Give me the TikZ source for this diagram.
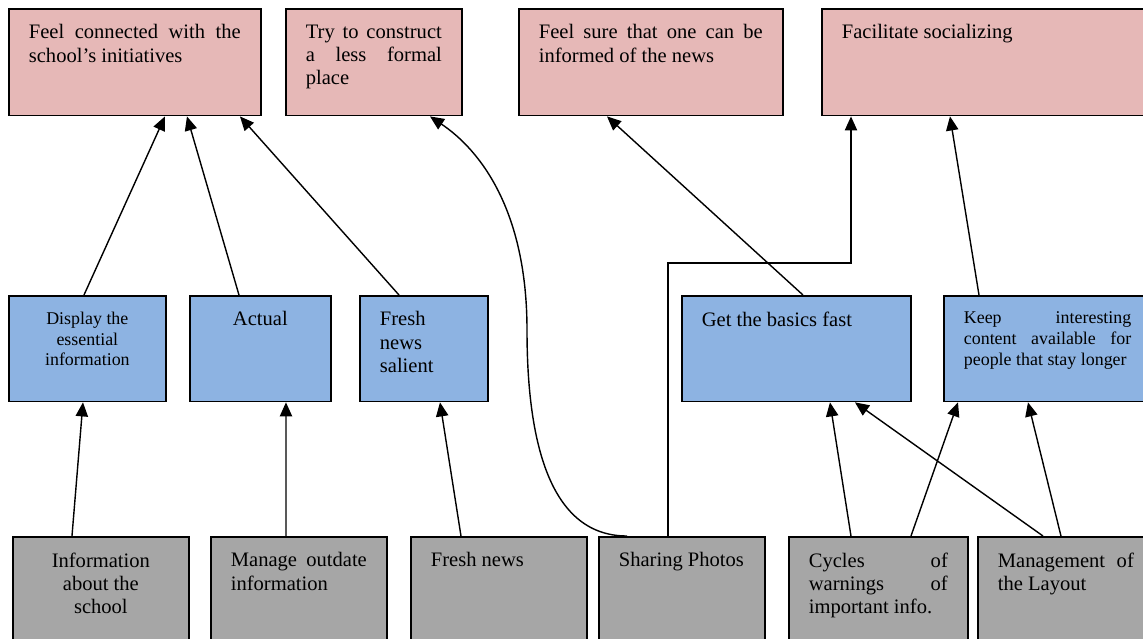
\documentclass[tikz,border=0pt]{standalone}
\usepackage{fontspec}
\setmainfont{Liberation Serif}
\usetikzlibrary{arrows.meta}

\definecolor{goalpink}{HTML}{E6B8B7}
\definecolor{needblue}{HTML}{8DB3E2}
\definecolor{featgray}{HTML}{A6A6A6}

\newcommand{\bigtxt}{\fontsize{11.7}{13.2}\selectfont}
\newcommand{\smalltxt}{\fontsize{10.2}{11.9}\selectfont}
\newcommand{\cell}[3]{\parbox[t][#2][t]{#1}{#3}}

\tikzset{
  box/.style={draw, line width=1pt, anchor=north west, inner xsep=0.4cm, inner ysep=9pt, font=\bigtxt},
  goal/.style={box, fill=goalpink},
  need/.style={box, fill=needblue},
  feat/.style={box, fill=featgray},
  arr/.style={-{Triangle[length=8pt,width=7pt]}, line width=0.8pt},
}

\begin{document}
\begin{tikzpicture}[x=0.02cm, y=-0.02cm]
  \useasboundingbox (0,0) rectangle (1143,639);
  \clip (0,0) rectangle (1143,639);

  % goals
  \node[goal] (A) at (8,8) {\cell{4.24cm}{42.7pt}{Feel connected with the\linebreak school's initiatives}};
  \node[goal] (B) at (285,8) {\cell{2.72cm}{42.7pt}{Try to construct\linebreak a less formal\linebreak place}};
  \node[goal] (C) at (518,8) {\cell{4.48cm}{42.7pt}{Feel sure that one can be\linebreak informed of the news}};
  \node[goal] (D) at (821,8) {\cell{6cm}{42.7pt}{Facilitate socializing}};

  % needs
  \node[need, font=\smalltxt] (E) at (8,295) {\cell{2.34cm}{42.1pt}{\centering Display the\\ essential\\ information}};
  \node[need] (F) at (189,295) {\cell{2.02cm}{42.1pt}{\centering Actual}};
  \node[need] (G) at (359,295) {\cell{1.76cm}{42.1pt}{Fresh\\ news\\ salient}};
  \node[need] (H) at (681,295) {\cell{3.78cm}{42.1pt}{Get the basics fast}};
  \node[need, font=\smalltxt] (I) at (943,295) {\cell{3.35cm}{42.1pt}{Keep interesting\linebreak content available for\linebreak people that stay longer}};

  % features
  \node[feat] (J) at (12,536) {\cell{2.72cm}{50pt}{\centering Information\\ about the\\ school}};
  \node[feat] (K) at (210,536) {\cell{2.72cm}{50pt}{Manage outdate\linebreak information}};
  \node[feat] (L) at (410,536) {\cell{2.72cm}{50pt}{Fresh news}};
  \node[feat] (M) at (598,536) {\cell{2.52cm}{50pt}{Sharing Photos}};
  \node[feat] (N) at (788,536) {\cell{2.78cm}{50pt}{Cycles of\linebreak warnings of\linebreak important info.}};
  \node[feat] (O) at (977,536) {\cell{2.72cm}{50pt}{Management of\linebreak the Layout}};

  % needs -> goals
  \draw[arr] ([xshift=1.52cm]E.north west) -- ([xshift=3.14cm]A.south west);
  \draw[arr] ([xshift=1.0cm]F.north west) -- ([xshift=3.58cm]A.south west);
  \draw[arr] ([xshift=0.8cm]G.north west) -- ([xshift=4.64cm]A.south west);
  \draw[arr] ([xshift=2.44cm]H.north west) -- ([xshift=1.78cm]C.south west);
  \draw[arr] ([xshift=0.72cm]I.north west) -- ([xshift=2.58cm]D.south west);

  % features -> needs
  \draw[arr] ([xshift=1.2cm]J.north west) -- ([xshift=1.5cm]E.south west);
  \draw[arr] ([xshift=1.52cm]K.north west) -- ([xshift=1.94cm]F.south west);
  \draw[arr] ([xshift=1.02cm]L.north west) -- ([xshift=1.62cm]G.south west);
  \draw[arr] ([xshift=1.26cm]N.north west) -- ([xshift=2.98cm]H.south west);
  \draw[arr] ([xshift=2.46cm]N.north west) -- ([xshift=0.3cm]I.south west);
  \draw[arr] ([xshift=1.32cm]O.north west) -- ([xshift=3.48cm]H.south west);
  \draw[arr] ([xshift=1.68cm]O.north west) -- ([xshift=1.7cm]I.south west);

  % photos
  \coordinate (sweep) at (527,330);
  \coordinate (bend) at (760,263);
  \draw[arr] ([xshift=0.58cm]M.north west) .. controls (545,536) and (527,430) .. (sweep)
    .. controls (527,210) and (480,150) .. ([xshift=2.9cm]B.south west);
  \draw[arr] ([xshift=1.4cm]M.north west) |- (bend) -| ([xshift=0.6cm]D.south west);
\end{tikzpicture}
\end{document}
